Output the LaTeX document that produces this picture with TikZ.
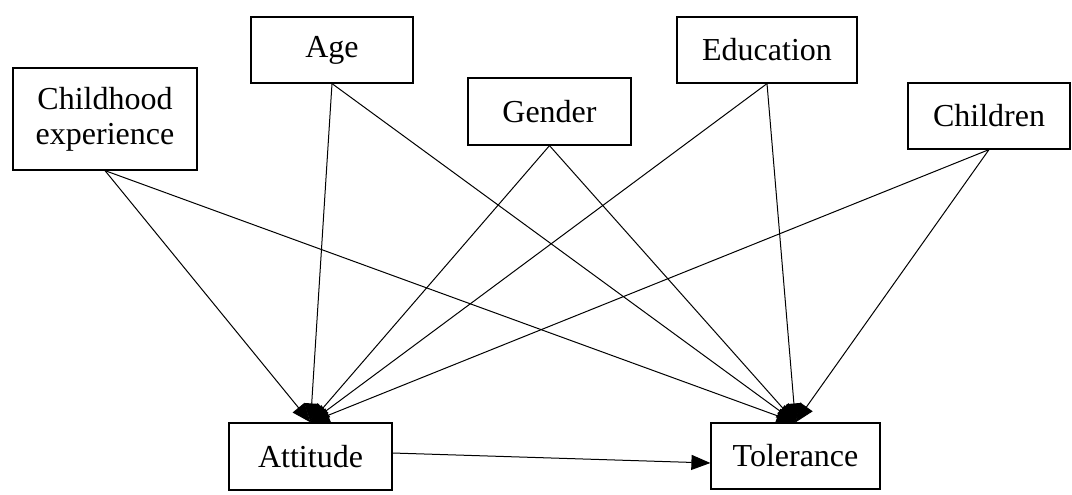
\documentclass[tikz,border=0pt]{standalone}
\usepackage{fontspec}
\setmainfont{Liberation Serif}
\usetikzlibrary{arrows.meta}

\begin{document}
\begin{tikzpicture}[x=0.5pt, y=-0.5pt, >={Triangle[length=9.5pt,width=7.5pt]},
        factor/.style={shape=rectangle, draw, line width=0.6pt, align=center, inner sep=2pt,
            font=\fontsize{16}{17.5}\selectfont},
        link/.style={->, line width=0.5pt}]
    \useasboundingbox (0,0) rectangle (1072,494);
    \begin{scope}
        \node[factor, minimum width=92pt, minimum height=51pt] (Childhood) at (105,119) {Childhood\\experience};
        \node[factor, minimum width=81pt, minimum height=33pt] (Age) at (332,50) {Age};
        \node[factor, minimum width=81.5pt, minimum height=33.5pt] (Gender) at (549.5,111.5) {Gender};
        \node[factor, minimum width=90pt, minimum height=33pt] (Education) at (767,50) {Education};
        \node[factor, minimum width=81pt, minimum height=33pt] (Children) at (989,116) {Children};
        \node[factor, minimum width=81.5pt, minimum height=33.5pt] (Attitude) at (310.5,456.5) {Attitude};
        \node[factor, minimum width=84.5pt, minimum height=33pt] (Tolerance) at (795.5,456) {Tolerance};
    \end{scope}
    \foreach \src in {Childhood, Age, Gender, Education, Children} {
        \draw[link] (\src.south) -- (Attitude.north);
        \draw[link] (\src.south) -- (Tolerance.north);
    }
    \draw[link] ([yshift=1.75pt]Attitude.east) -- ([yshift=-3.5pt]Tolerance.west);
\end{tikzpicture}
\end{document}
